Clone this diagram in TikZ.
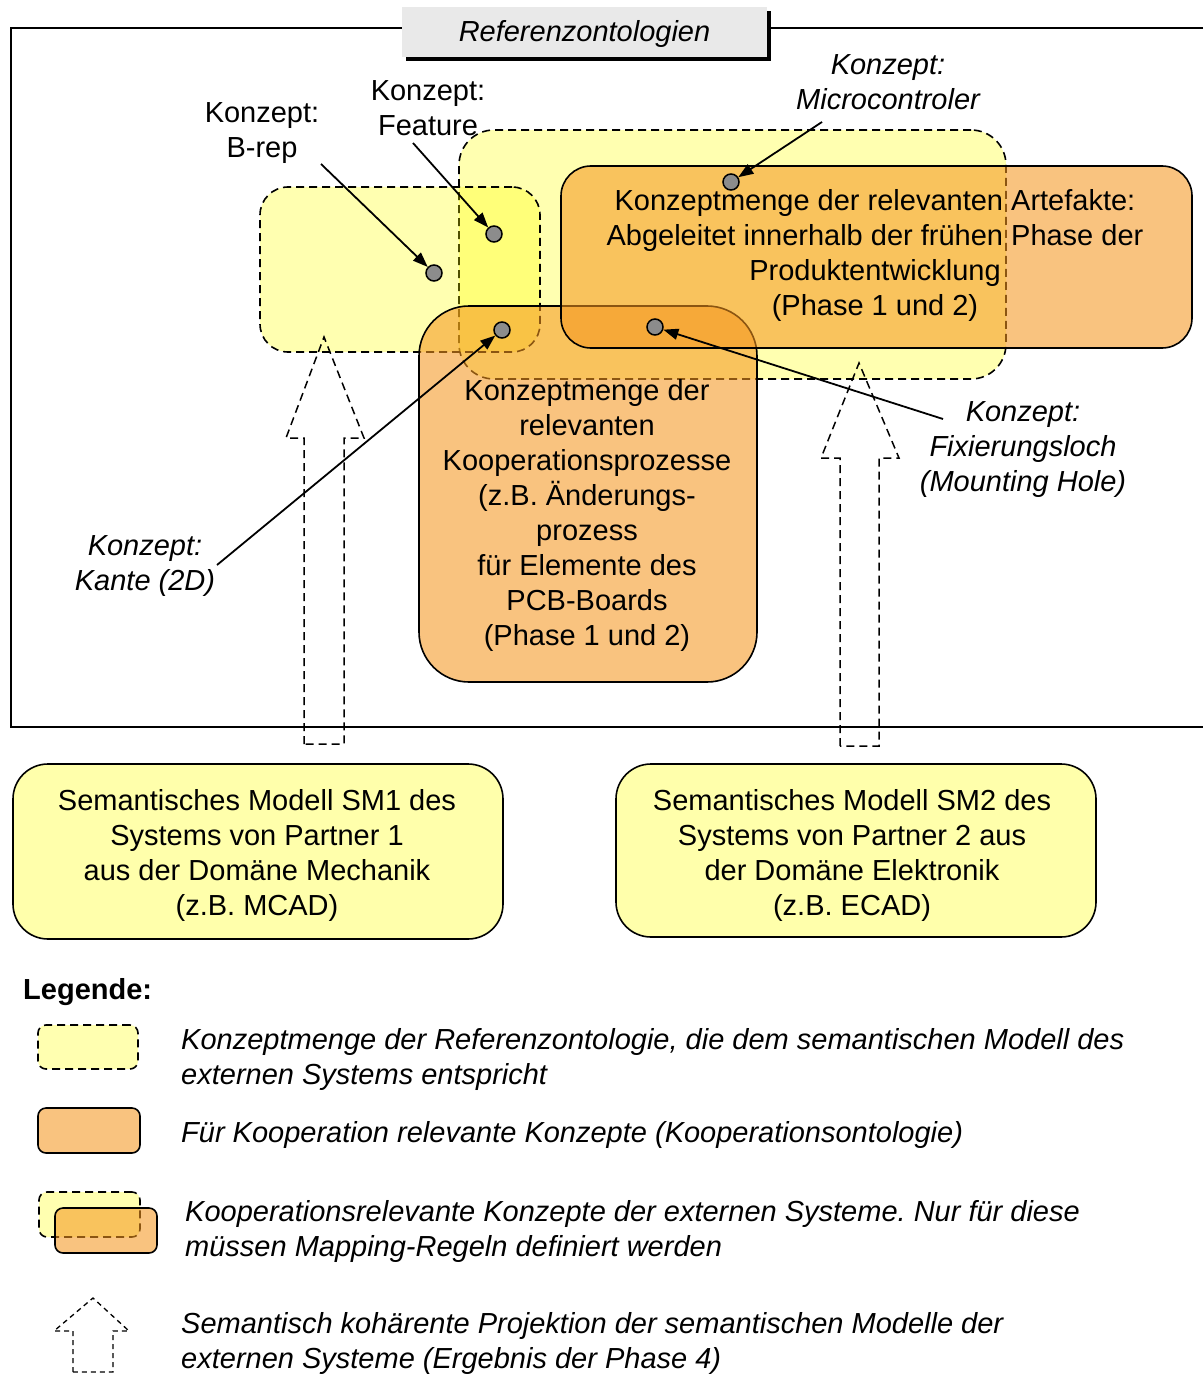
\documentclass[tikz,border=0pt]{standalone}
\usepackage{fontspec}
\setmainfont{Liberation Sans}
\usetikzlibrary{arrows.meta}
\definecolor{yel}{RGB}{255,255,0}
\definecolor{org}{RGB}{245,150,30}
\definecolor{titlegray}{RGB}{233,233,233}
\definecolor{dotgray}{RGB}{140,140,140}
\frenchspacing
\begin{document}
\begin{tikzpicture}[x=1pt,y=-1pt,
  txt/.style={font=\fontsize{29}{35}\selectfont, align=center, inner sep=0pt},
  itxt/.style={font=\fontsize{29}{35}\selectfont\itshape, align=center, inner sep=0pt},
  ltxt/.style={font=\fontsize{29}{35}\selectfont\itshape, align=left, inner sep=0pt, anchor=west},
  ysetbox/.style={draw=black, line width=1.6pt, dash pattern=on 8pt off 5pt,
    fill=yel, fill opacity=0.31, text opacity=1, rounded corners=#1, inner sep=0pt},
  ysetbox/.default=30pt,
  ysolidbox/.style={draw=black, line width=1.6pt,
    fill=yel, fill opacity=0.33, text opacity=1, rounded corners=#1, inner sep=0pt},
  ysolidbox/.default=35pt,
  obox/.style={draw=black, line width=1.6pt,
    fill=org, fill opacity=0.57, text opacity=1, rounded corners=#1, inner sep=0pt},
  obox/.default=30pt,
  hollowarrow/.style={draw=black, line width=1.5pt, dash pattern=on 8pt off 5pt},
  dot/.style={circle, draw=black, line width=1.5pt, fill=dotgray, minimum size=16pt, inner sep=0pt},
  conn/.style={draw=black, line width=1.8pt, -{Triangle[length=15pt,width=11pt]}}
]
\useasboundingbox (0,0) rectangle (1203,1380);

% frame
\draw[line width=2.2pt] (1203,28) -- (11,28) -- (11,727) -- (1203,727);

% title
\node[fill=black, minimum width=365pt, minimum height=50pt, inner sep=0pt] (tshadow) at (588.5,36) {};
\node[fill=titlegray, minimum width=365pt, minimum height=50pt, inner sep=0pt] (title) at (584.5,32) {};
\node[font=\fontsize{29}{35}\selectfont\itshape, inner sep=0pt] (titletext) at (584.5,34) {Referenzontologien};

% concept sets
\node[ysetbox=35pt, minimum width=547pt, minimum height=249pt] (B) at (732.5,254.5) {};
\node[ysetbox=28pt, minimum width=280pt, minimum height=165pt] (A) at (400,269.5) {};
\node[obox=50pt, minimum width=338pt, minimum height=376pt] (D) at (588,494) {};
\node[obox=30pt, minimum width=631pt, minimum height=182pt] (C) at (876.5,257) {};
\node[txt] (Ctext) at (875,255.5) {Konzeptmenge der relevanten Artefakte:\\Abgeleitet innerhalb der frühen Phase der\\Produktentwicklung\\(Phase 1 und 2)};
\node[txt] (Dtext) at (587,515) {Konzeptmenge der\\relevanten\\Kooperationsprozesse\\(z.B. Änderungs-\\prozess\\für Elemente des\\PCB-Boards\\(Phase 1 und 2)};

% semantic models
\node[ysolidbox, minimum width=490pt, minimum height=175pt] (SM1) at (258,851.5) {};
\node[txt] (SM1text) at (257,855) {Semantisches Modell SM1 des\\Systems von Partner 1\\aus der Domäne Mechanik\\(z.B. MCAD)};
\node[ysolidbox, minimum width=480pt, minimum height=173pt] (SM2) at (856,850.5) {};
\node[txt] (SM2text) at (852,855) {Semantisches Modell SM2 des\\Systems von Partner 2 aus\\der Domäne Elektronik\\(z.B. ECAD)};

% hollow projection arrows
\draw[hollowarrow] (304,744) -- (304,438) -- (286,438) -- (324,337) -- (364,438) -- (344,438) -- (344,744) -- cycle;
\draw[hollowarrow] (840,746) -- (840,458) -- (821,458) -- (859,363) -- (899,458) -- (879,458) -- (879,746) -- cycle;

% concept dots
\node[dot] (dbr) at (434,273) {};
\node[dot] (dft) at (494,234) {};
\node[dot] (dmc) at (731,182) {};
\node[dot] (dfx) at (655,327) {};
\node[dot] (dkt) at (502,330) {};

% labels
\node[txt] (lbr) at (262,133) {Konzept:\\B-rep};
\node[txt] (lft) at (428,108) {Konzept:\\Feature};
\node[itxt] (lmc) at (888,82) {Konzept:\\Microcontroler};
\node[itxt] (lfx) at (1023,450) {Konzept:\\Fixierungsloch\\(Mounting Hole)};
\node[itxt] (lkt) at (145,566) {Konzept:\\Kante (2D)};

\coordinate (sbr) at (321,164);
\coordinate (sft) at (413,143);
\coordinate (smc) at (822,122);
\coordinate (sfx) at (943,419);
\coordinate (skt) at (217,565);

\draw[conn] (sbr) -- (dbr);
\draw[conn] (sft) -- (dft);
\draw[conn] (smc) -- (dmc);
\draw[conn] (sfx) -- (dfx);
\draw[conn] (skt) -- (dkt);

% legend
\node[font=\fontsize{29}{35}\selectfont\bfseries, anchor=west, inner sep=0pt] (leg) at (23,992) {Legende:};
\node[ysetbox=8pt, minimum width=100pt, minimum height=44pt] (L1) at (88,1047) {};
\node[ltxt] (L1t) at (181,1059) {Konzeptmenge der Referenzontologie, die dem semantischen Modell des\\externen Systems entspricht};
\node[obox=8pt, minimum width=102pt, minimum height=45pt] (L2) at (89,1130.5) {};
\node[ltxt] (L2t) at (181,1135) {Für Kooperation relevante Konzepte (Kooperationsontologie)};
\node[ysetbox=8pt, minimum width=101pt, minimum height=45pt] (L3a) at (89.5,1214.5) {};
\node[obox=8pt, minimum width=102pt, minimum height=45pt] (L3b) at (106,1230.5) {};
\node[ltxt] (L3t) at (185,1231) {Kooperationsrelevante Konzepte der externen Systeme. Nur für diese\\müssen Mapping-Regeln definiert werden};
\draw[draw=black, line width=1.3pt, dash pattern=on 5pt off 4pt] (73,1372) -- (73,1331) -- (54,1331) -- (93,1298) -- (129,1331) -- (113,1331) -- (113,1372) -- cycle;
\node[ltxt] (L4t) at (181,1343) {Semantisch kohärente Projektion der semantischen Modelle der\\externen Systeme (Ergebnis der Phase 4)};
\end{tikzpicture}
\end{document}
